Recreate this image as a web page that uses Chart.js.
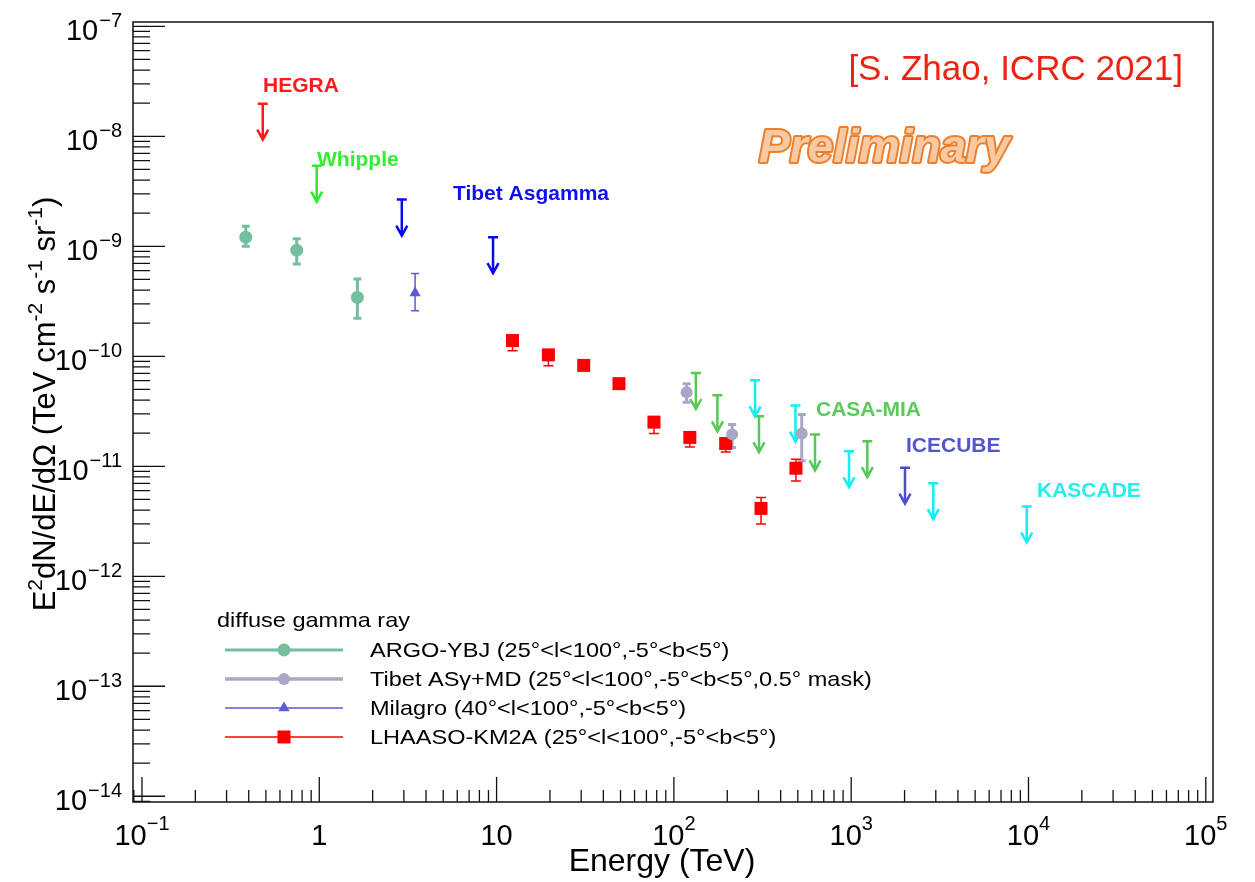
<!DOCTYPE html>
<html>
<head>
<meta charset="utf-8">
<script src="https://cdn.jsdelivr.net/npm/chart.js@4.4.1/dist/chart.umd.min.js"></script>
<style>
  html, body { margin: 0; padding: 0; background: #fff; }
  #wrap { width: 1255px; height: 882px; }
</style>
</head>
<body>
<div id="wrap"><canvas id="c" width="1255" height="882"></canvas></div>
<script>
// Energy in TeV, flux E^2 dN/dE/dOmega in TeV cm^-2 s^-1 sr^-1

// measurements with error bars
const argoE  = [0.385, 0.746, 1.64];
const argoF  = [1.21e-9, 9.2e-10, 3.43e-10];
const argoLo = [1.0e-9, 6.9e-10, 2.22e-10];
const argoHi = [1.52e-9, 1.17e-9, 5.03e-10];

const tibetE  = [118, 213, 526];
const tibetF  = [4.71e-11, 1.95e-11, 1.99e-11];
const tibetLo = [3.82e-11, 1.48e-11, 1.12e-11];
const tibetHi = [5.64e-11, 2.40e-11, 2.96e-11];

const milagroE  = [3.47];
const milagroF  = [3.77e-10];
const milagroLo = [2.6e-10];
const milagroHi = [5.66e-10];

const lhaasoE  = [12.3, 19.6, 31.0, 49.0, 77.2, 123, 196, 310, 488];
const lhaasoF  = [1.39e-10, 1.03e-10, 8.26e-11, 5.64e-11, 2.52e-11, 1.83e-11, 1.61e-11, 4.14e-12, 9.6e-12];
const lhaasoLo = [1.12e-10, 8.2e-11, 7.6e-11, 5.3e-11, 1.99e-11, 1.5e-11, 1.35e-11, 2.99e-12, 7.36e-12];
const lhaasoHi = [1.5e-10, 1.12e-10, 8.9e-11, 6.0e-11, 2.8e-11, 2.0e-11, 1.75e-11, 5.21e-12, 1.16e-11];

// upper limits (value = top of the arrow)
const hegraE = [0.48];
const hegraUL = [1.98e-8];
const whippleE = [0.967];
const whippleUL = [5.4e-9];
const tibetUlE = [2.92, 9.55];
const tibetUL = [2.66e-9, 1.21e-9];
const casaE = [133, 176, 302, 625, 1233];
const casaUL = [7.05e-11, 4.42e-11, 2.85e-11, 1.95e-11, 1.69e-11];
const kascadeE = [287, 485, 972, 2904, 9772];
const kascadeUL = [6.04e-11, 3.56e-11, 1.37e-11, 7.02e-12, 4.31e-12];
const icecubeE = [2011];
const icecubeUL = [9.72e-12];

// axes
const xTickExps = [-1, 0, 1, 2, 3, 4, 5];
const yTickExps = [-7, -8, -9, -10, -11, -12, -13, -14];
const X_MIN = 0.089, X_MAX = 1.098e5;
const Y_MIN = 8.87e-15, Y_MAX = 1.094e-7;

const FONT = '"Liberation Sans", Arial, Helvetica, sans-serif';

function pts(xs, ys) {
    return xs.map((v, i) => ({ x: v, y: ys[i] }));
}

function txt(ctx, s, x, y, font, color, align, sx) {
    ctx.save();
    ctx.font = font;
    ctx.fillStyle = color;
    ctx.textAlign = align || 'left';
    ctx.textBaseline = 'alphabetic';
    ctx.translate(x, y);
    ctx.scale(sx || 1, 1);
    ctx.fillText(s, 0, 0);
    ctx.restore();
}

// segments: [text, isSuperscript]; draws centred on x, baseline y
function richWidth(ctx, segs, size, supSize) {
    let w = 0;
    segs.forEach(([s, sup]) => {
        ctx.font = (sup ? supSize : size) + 'px ' + FONT;
        w += ctx.measureText(s).width;
    });
    return w;
}

function drawRich(ctx, segs, x, y, size, supSize, raise, align) {
    const w = richWidth(ctx, segs, size, supSize);
    let cx = align === 'right' ? x - w : align === 'left' ? x : x - w / 2;
    ctx.fillStyle = '#000';
    ctx.textAlign = 'left';
    ctx.textBaseline = 'alphabetic';
    segs.forEach(([s, sup]) => {
        ctx.font = (sup ? supSize : size) + 'px ' + FONT;
        ctx.fillText(s, cx, sup ? y - raise : y);
        cx += ctx.measureText(s).width;
    });
}

function powLabel(e) {
    if (e === 0) return [['1', 0]];
    if (e === 1) return [['10', 0]];
    return [['10', 0], [(e < 0 ? '\u2212' : '') + Math.abs(e), 1]];
}

function drawArrow(ctx, px, py, color) {
    const tip = py + 36;
    ctx.strokeStyle = color;
    ctx.lineWidth = 2.5;
    ctx.beginPath();
    ctx.moveTo(px - 5, py); ctx.lineTo(px + 5, py);
    ctx.moveTo(px, py); ctx.lineTo(px, tip);
    ctx.moveTo(px - 5.5, tip - 10); ctx.lineTo(px, tip); ctx.lineTo(px + 5.5, tip - 10);
    ctx.stroke();
}

const rootStyle = {
    id: 'rootStyle',
    beforeDatasetsDraw(chart) {
        const { ctx, scales: { x, y } } = chart;
        ctx.save();
        ctx.beginPath();
        ctx.rect(chart.chartArea.left, chart.chartArea.top, chart.chartArea.width, chart.chartArea.height);
        ctx.clip();
        chart.data.datasets.forEach(ds => {
            // upper limit arrows
            if (ds.upperLimit) {
                ds.data.forEach(p => drawArrow(ctx, x.getPixelForValue(p.x), y.getPixelForValue(p.y), ds.arrowColor));
                return;
            }
            if (!ds.errLo) return;
            ctx.strokeStyle = ds.backgroundColor;
            ctx.lineWidth = ds.errWidth;
            ds.data.forEach((p, j) => {
                const px = x.getPixelForValue(p.x);
                const yl = y.getPixelForValue(ds.errLo[j]);
                const yh = y.getPixelForValue(ds.errHi[j]);
                const c = ds.capHalf;
                ctx.beginPath();
                ctx.moveTo(px, yl); ctx.lineTo(px, yh);
                ctx.moveTo(px - c, yl); ctx.lineTo(px + c, yl);
                ctx.moveTo(px - c, yh); ctx.lineTo(px + c, yh);
                ctx.stroke();
            });
        });
        ctx.restore();
    },
    afterDraw(chart) {
        const { ctx, chartArea: a, scales: { x, y } } = chart;
        ctx.save();

        // frame
        ctx.strokeStyle = '#111';
        ctx.lineWidth = 1.5;
        ctx.strokeRect(a.left, a.top, a.right - a.left, a.bottom - a.top);

        // ticks pointing inwards
        ctx.lineWidth = 1.3;
        ctx.beginPath();
        for (let e = -15; e <= -7; e++) {
            for (let m = 1; m <= 9; m++) {
                const v = m * Math.pow(10, e);
                if (v < Y_MIN || v > Y_MAX) continue;
                const py = y.getPixelForValue(v);
                ctx.moveTo(a.left, py);
                ctx.lineTo(a.left + (m === 1 ? 32 : 17), py);
            }
        }
        for (let e = -2; e <= 5; e++) {
            for (let m = 1; m <= 9; m++) {
                const v = m * Math.pow(10, e);
                if (v < X_MIN || v > X_MAX) continue;
                const px = x.getPixelForValue(v);
                ctx.moveTo(px, a.bottom);
                ctx.lineTo(px, a.bottom - (m === 1 ? 25 : 12));
            }
        }
        ctx.stroke();

        // tick labels
        yTickExps.forEach(e => {
            const py = y.getPixelForValue(Math.pow(10, e));
            const supTxt = '\u2212' + Math.abs(e);
            ctx.font = '20px ' + FONT;
            const sw = ctx.measureText(supTxt).width;
            ctx.fillStyle = '#000';
            ctx.textAlign = 'right';
            ctx.fillText(supTxt, 122, py + 1);
            ctx.font = '29px ' + FONT;
            ctx.fillText('10', 122 - sw - 1, py + 13.5);
        });
        xTickExps.forEach(e => {
            const px = x.getPixelForValue(Math.pow(10, e));
            const segs = powLabel(e);
            drawRich(ctx, segs, px, 845, 29, 20, 15, 'center');
        });

        // axis titles
        drawRich(ctx, [['Energy (TeV)', 0]], 662, 871, 32, 20, 0, 'center');
        ctx.save();
        ctx.translate(55, 404);
        ctx.rotate(-Math.PI / 2);
        drawRich(ctx, [['E', 0], ['2', 1], ['dN/dE/d\u03A9 (TeV cm', 0], ['-2', 1], [' s', 0], ['-1', 1],
            [' sr', 0], ['-1', 1], [')', 0]], 0, 0, 31, 21, 13, 'center');
        ctx.restore();

        // experiment labels
        const bold = '21px ' + FONT;
        txt(ctx, 'HEGRA', 263, 92, 'bold ' + bold, '#ff1a1a');
        txt(ctx, 'Whipple', 317, 166, 'bold ' + bold, '#33ee33');
        txt(ctx, 'Tibet Asgamma', 453, 200, 'bold ' + bold, '#1010ee');
        txt(ctx, 'CASA-MIA', 816, 416, 'bold ' + bold, '#5acb5a');
        txt(ctx, 'ICECUBE', 906, 451.5, 'bold ' + bold, '#5555cc');
        txt(ctx, 'KASCADE', 1037, 496.5, 'bold ' + bold, '#22eeee');

        // citation + preliminary
        txt(ctx, '[S. Zhao, ICRC 2021]', 1183, 80, '35px ' + FONT, '#ee2211', 'right');
        ctx.save();
        ctx.font = 'italic bold 46px ' + FONT;
        ctx.lineJoin = 'round';
        ctx.lineWidth = 4;
        ctx.strokeStyle = '#ec7f2d';
        ctx.strokeText('Preliminary', 759, 162);
        ctx.fillStyle = '#f8caa4';
        ctx.fillText('Preliminary', 759, 162);
        ctx.restore();

        // legend
        txt(ctx, 'diffuse gamma ray', 217, 626.7, '21px ' + FONT, '#000', 'left', 1.12);
        chart.data.datasets.filter(ds => ds.legendText).forEach((ds, i) => {
            const ry = 650 + 29 * i;
            ctx.strokeStyle = ds.backgroundColor;
            ctx.lineWidth = ds.legendLine;
            ctx.beginPath();
            ctx.moveTo(225, ry); ctx.lineTo(343, ry);
            ctx.stroke();
            ctx.fillStyle = ds.backgroundColor;
            Chart.helpers.drawPoint(ctx, { pointStyle: ds.pointStyle, radius: ds.pointRadius, rotation: 0, borderWidth: 0 }, 284, ry);
            txt(ctx, ds.legendText, 370, ry + 6.7, '21px ' + FONT, '#000', 'left', 1.12);
        });

        ctx.restore();
    }
};

const datasets = [
    {
        label: 'ARGO-YBJ', data: pts(argoE, argoF), errLo: argoLo, errHi: argoHi,
        backgroundColor: '#72c09e', pointStyle: 'circle', pointRadius: 6.5, pointBorderWidth: 0,
        errWidth: 3, capHalf: 4, legendLine: 3,
        legendText: 'ARGO-YBJ (25\u00b0<l<100\u00b0,-5\u00b0<b<5\u00b0)'
    },
    {
        label: 'Tibet ASgamma+MD', data: pts(tibetE, tibetF), errLo: tibetLo, errHi: tibetHi,
        backgroundColor: '#a9a7c7', pointStyle: 'circle', pointRadius: 6, pointBorderWidth: 0,
        errWidth: 3, capHalf: 4, legendLine: 3.5,
        legendText: 'Tibet AS\u03b3+MD (25\u00b0<l<100\u00b0,-5\u00b0<b<5\u00b0,0.5\u00b0 mask)'
    },
    {
        label: 'Milagro', data: pts(milagroE, milagroF), errLo: milagroLo, errHi: milagroHi,
        backgroundColor: '#5b5bd6', pointStyle: 'triangle', pointRadius: 6.5, pointBorderWidth: 0,
        errWidth: 1.5, capHalf: 4, legendLine: 1.5,
        legendText: 'Milagro (40\u00b0<l<100\u00b0,-5\u00b0<b<5\u00b0)'
    },
    {
        label: 'LHAASO-KM2A', data: pts(lhaasoE, lhaasoF), errLo: lhaasoLo, errHi: lhaasoHi,
        backgroundColor: '#ff0000', pointStyle: 'rect', pointRadius: 9.2, pointBorderWidth: 0,
        errWidth: 1.5, capHalf: 5, legendLine: 1.5,
        legendText: 'LHAASO-KM2A (25\u00b0<l<100\u00b0,-5\u00b0<b<5\u00b0)'
    },
    { label: 'HEGRA', data: pts(hegraE, hegraUL), upperLimit: true, arrowColor: '#ff1a1a' },
    { label: 'Whipple', data: pts(whippleE, whippleUL), upperLimit: true, arrowColor: '#2ee82e' },
    { label: 'Tibet Asgamma', data: pts(tibetUlE, tibetUL), upperLimit: true, arrowColor: '#0a0af0' },
    { label: 'CASA-MIA', data: pts(casaE, casaUL), upperLimit: true, arrowColor: '#55c855' },
    { label: 'KASCADE', data: pts(kascadeE, kascadeUL), upperLimit: true, arrowColor: '#12eef2' },
    { label: 'ICECUBE', data: pts(icecubeE, icecubeUL), upperLimit: true, arrowColor: '#4d4dcc' }
];
datasets.forEach(ds => {
    if (ds.upperLimit) {
        ds.pointRadius = 0;
        ds.backgroundColor = ds.arrowColor;
    }
    ds.pointHoverRadius = ds.pointRadius;
    ds.borderWidth = 0;
});

const chart = new Chart(document.getElementById('c'), {
    type: 'scatter',
    data: { datasets },
    options: {
        responsive: false,
        animation: false,
        events: [],
        devicePixelRatio: 1,
        layout: { padding: { left: 0, right: 42, top: 22, bottom: 0 } },
        plugins: { legend: { display: false }, tooltip: { enabled: false } },
        scales: {
            x: {
                type: 'logarithmic', min: X_MIN, max: X_MAX, bounds: 'data',
                ticks: { display: false }, grid: { display: false }, border: { display: false },
                afterFit(s) { s.height = 80; }
            },
            y: {
                type: 'logarithmic', min: Y_MIN, max: Y_MAX, bounds: 'data',
                ticks: { display: false }, grid: { display: false }, border: { display: false },
                afterFit(s) { s.width = 133; }
            }
        }
    },
    plugins: [rootStyle]
});
</script>
</body>
</html>
